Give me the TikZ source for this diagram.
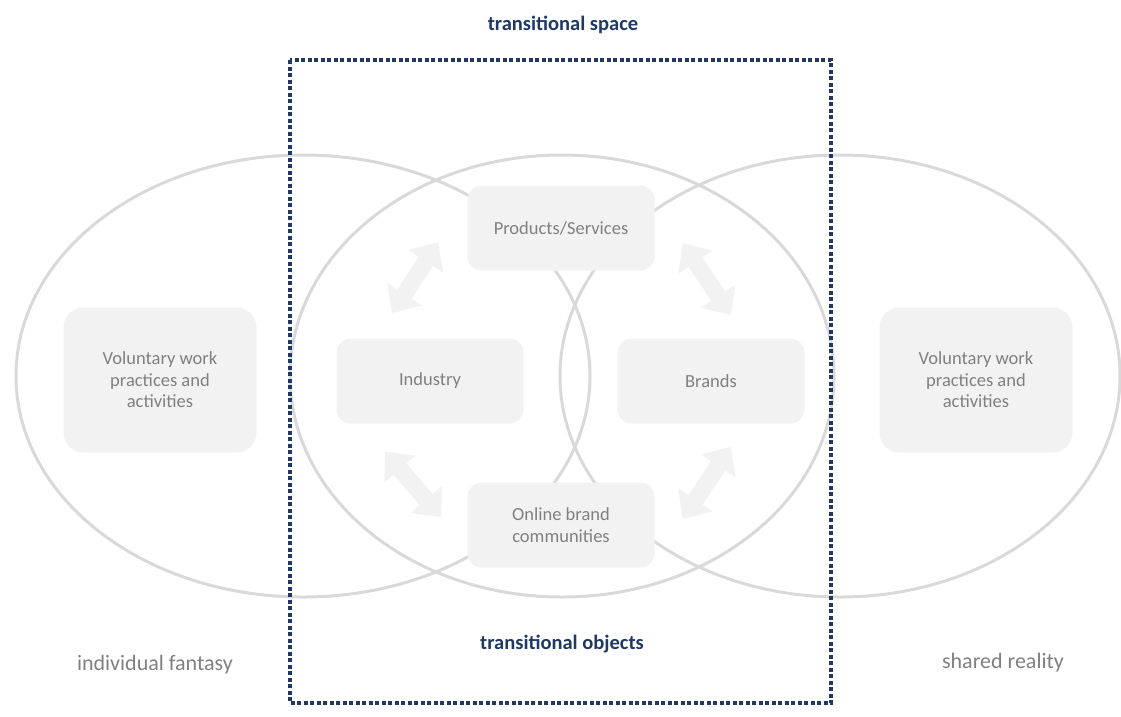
\documentclass[tikz,border=0pt]{standalone}
\usepackage{fontspec}
\setmainfont{Carlito}
\usetikzlibrary{positioning,arrows.meta}
\definecolor{navy}{HTML}{1F3864}
\definecolor{ringgray}{HTML}{D9D9D9}
\definecolor{boxgray}{HTML}{F2F2F2}
\definecolor{textgray}{HTML}{808080}
\tikzset{
    ring/.style={draw=ringgray, line width=3pt},
    softbox/.style={
        rectangle,
        rounded corners=14pt,
        fill=boxgray,
        text=textgray,
        minimum width=187pt,
        minimum height=85pt,
        align=center,
        font={\fontsize{18.5}{21.5}\selectfont}
    },
    bigbox/.style={softbox, rounded corners=20pt, minimum width=193pt, minimum height=145pt},
    biarrow/.style={
        draw=boxgray, line width=17pt,
        {Triangle[width=40pt,length=23pt]}-{Triangle[width=40pt,length=23pt]}
    },
    spaceframe/.style={draw=navy, line width=3.5pt, dash pattern=on 4pt off 2.5pt},
    heading/.style={text=navy, font={\bfseries\fontsize{20.5}{24}\selectfont}},
    sidelabel/.style={text=textgray, font={\fontsize{22}{26}\selectfont}},
}

\begin{document}
\begin{tikzpicture}[x=1pt, y=-1pt]
\useasboundingbox (0,0) rectangle (1121,716);

% the three overlapping areas
\foreach \cx/\rx in {303/287, 562/272, 840/280}
  \draw[ring] (\cx,376) ellipse [x radius=\rx, y radius=221];

\node[bigbox] (fantasy) at (160,380) {Voluntary work\\practices and\\activities};
\node[bigbox] (reality) at (976,380) {Voluntary work\\practices and\\activities};

\node[softbox] (products) at (561,228) {Products/Services};
\node[softbox] (industry) at (430,381) {Industry};
\node[softbox] (brands) at (711,381) {Brands};
\node[softbox] (community) at (561,525) {Online brand\\communities};

\draw[biarrow] ([shift={(-38,-25)}]industry.north) -- ([shift={(-29,14)}]products.west);
\draw[biarrow] ([shift={(-45,28)}]industry.south) -- ([shift={(-26,-8)}]community.west);
\draw[biarrow] ([shift={(28,15)}]products.east) -- ([shift={(20,-23)}]brands.north);
\draw[biarrow] ([shift={(20,23)}]brands.south) -- ([shift={(28,-6)}]community.east);

\draw[spaceframe] (290,60) rectangle (831,703);

\node[heading] (spacelabel) at (563,25) {transitional space};
\node[heading] (objectslabel) at (562,644) {transitional objects};
\node[sidelabel] (fantasylabel) at (155,665) {individual fantasy};
\node[sidelabel] (realitylabel) at (1003,663) {shared reality};
\end{tikzpicture}
\end{document}
